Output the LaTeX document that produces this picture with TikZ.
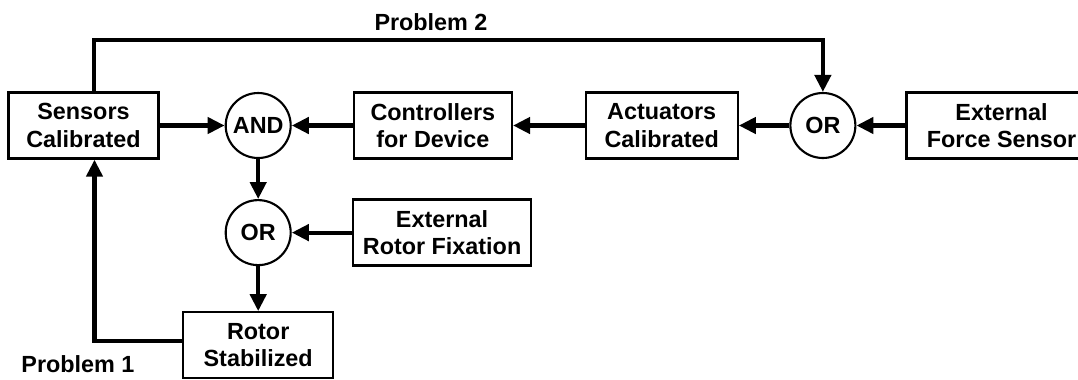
\documentclass[tikz,border=0pt]{standalone}
\usepackage{fontspec}
\setmainfont{Liberation Sans}
\usetikzlibrary{positioning,arrows.meta}

\begin{document}
\begin{tikzpicture}[
        block/.style={draw, line width=1.3pt, minimum width=3cm, minimum height=1.32cm, inner xsep=0.2cm, align=center, font=\bfseries\fontsize{13.3}{15.5}\selectfont},
        gate/.style={draw, circle, line width=1.2pt, minimum size=1.3cm, inner sep=0pt, font=\bfseries\fontsize{13.3}{15.5}\selectfont},
        note/.style={font=\bfseries\fontsize{13.3}{15.5}\selectfont},
        link/.style={-{Triangle[length=0.34cm, width=0.32cm]}, line width=2.4pt}
    ]
    \useasboundingbox (0,0) rectangle (21.56,-7.58);
    \node (sensors) [block] at (1.67,-2.51) {Sensors\\Calibrated};
    \node (andgate) [gate, right=1.3cm of sensors] {AND};
    \node (controllers) [block, minimum width=3.16cm, right=1.22cm of andgate] {Controllers\\for Device};
    \node (actuators) [block, minimum width=3.04cm, right=1.43cm of controllers] {Actuators\\Calibrated};
    \node (orforce) [gate, right=1.01cm of actuators] {OR};
    \node (extforce) [block, minimum width=3.8cm, right=0.98cm of orforce] {External\\Force Sensor};
    \node (orrotor) [gate, below=0.8cm of andgate] {OR};
    \node (extrotor) [block, right=1.2cm of orrotor] {External\\Rotor Fixation};
    \node (rotor) [block, below=0.9cm of orrotor] {Rotor\\Stabilized};
    \node (prob2) [note] at (8.62,-0.44) {Problem 2};
    \node (prob1) [note] at (1.56,-7.28) {Problem 1};

    \draw [link] (sensors.east) -- (andgate.west);
    \draw [link] (controllers.west) -- (andgate.east);
    \draw [link] (actuators.west) -- (controllers.east);
    \draw [link] (orforce.west) -- (actuators.east);
    \draw [link] (extforce.west) -- (orforce.east);
    \draw [link] (andgate.south) -- (orrotor.north);
    \draw [link] (extrotor.west) -- (orrotor.east);
    \draw [link] (orrotor.south) -- (rotor.north);
    \draw [link] ([xshift=0.21cm]sensors.north) -- ++(0,1.03) -| (orforce.north);
    \draw [link] ([yshift=0.08cm]rotor.west) -| ([xshift=0.22cm]sensors.south);
\end{tikzpicture}
\end{document}
